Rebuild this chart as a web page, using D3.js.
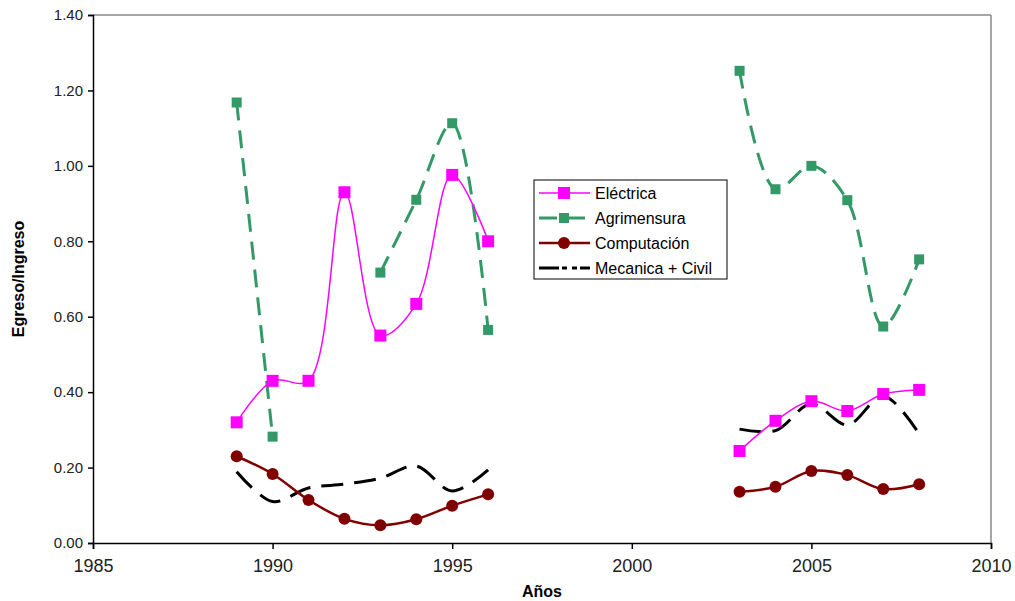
<!DOCTYPE html>
<html><head><meta charset="utf-8">
<script src="https://cdn.jsdelivr.net/npm/d3@7"></script>
<style>body{margin:0;background:#fff;} text{font-family:Arial,"Liberation Sans",sans-serif;}</style>
</head><body><svg id="c" width="1015" height="601"></svg>
<script>
const years = [1989,1990,1991,1992,1993,1994,1995,1996,1997,1998,1999,2000,2001,2002,2003,2004,2005,2006,2007,2008];
const electrica   = [0.32,0.43,0.43,0.93,0.55,0.634,0.976,0.80,null,null,null,null,null,null,0.244,0.324,0.376,0.350,0.395,0.406];
const agrimensura = [1.168,0.282,null,null,0.717,0.91,1.113,0.565,null,null,null,null,null,null,1.252,0.938,1.00,0.909,0.574,0.752];
const computacion = [0.230,0.183,0.114,0.064,0.047,0.063,0.099,0.129,null,null,null,null,null,null,0.136,0.149,0.191,0.180,0.143,0.156];
const mecanica    = [0.189,0.110,0.146,0.156,0.172,0.204,0.138,0.194,null,null,null,null,null,null,0.302,0.298,0.369,0.313,0.390,0.289];
const xTicks = [1985,1990,1995,2000,2005,2010];
const yTicks = [0,0.2,0.4,0.6,0.8,1.0,1.2,1.4];
const seriesNames = ["Eléctrica","Agrimensura","Computación","Mecanica + Civil"];

const svg = d3.select("#c");
const L=93, R=991, T=15, B=543;
const x = d3.scaleLinear().domain([1985,2010]).range([L,R]);
const y = d3.scaleLinear().domain([0,1.4]).range([B,T]);

// frame
svg.append("line").attr("x1",L).attr("x2",R).attr("y1",T).attr("y2",T).attr("stroke","#888").attr("stroke-width",1.5);
svg.append("line").attr("x1",R).attr("x2",R).attr("y1",T).attr("y2",B).attr("stroke","#888").attr("stroke-width",1.5);

const yAxis = svg.append("g").attr("transform",`translate(${L},0)`)
  .call(d3.axisLeft(y).tickValues(yTicks).tickFormat(d3.format(".2f")).tickSize(5).tickPadding(5));
const xAxis = svg.append("g").attr("transform",`translate(0,${B})`)
  .call(d3.axisBottom(x).tickValues(xTicks).tickFormat(d3.format("d")).tickSize(6).tickPadding(10));
[yAxis,xAxis].forEach(a=>{a.selectAll("path,line").attr("stroke","#000").attr("stroke-width",1.5);
  a.selectAll("text").attr("fill","#222").style("font-family","Arial,'Liberation Sans',sans-serif");});
yAxis.selectAll("text").style("font-size","15px");
xAxis.selectAll("text").style("font-size","18px");

svg.append("text").attr("transform",`translate(24,${(T+B)/2}) rotate(-90)`).attr("text-anchor","middle")
  .style("font-size","16px").style("font-weight","bold").text("Egreso/Ingreso");
svg.append("text").attr("x",(L+R)/2).attr("y",597).attr("text-anchor","middle")
  .style("font-size","16px").style("font-weight","bold").text("Años");

const series = [
  {vals:electrica, color:"#FF00FF", w:1.5, dash:null, marker:"sq", ms:12},
  {vals:agrimensura, color:"#339966", w:3, dash:"18,10", marker:"sq", ms:10},
  {vals:computacion, color:"#800000", w:2.5, dash:null, marker:"ci", ms:12},
  {vals:mecanica, color:"#000", w:3, dash:"22,11", marker:null, ms:0}
];

const line = d3.line().defined(d=>d[1]!=null).x(d=>x(d[0])).y(d=>y(d[1])).curve(d3.curveCatmullRom.alpha(0.5));

const order=[3,2,1,0];
order.forEach(i=>{
  const s=series[i];
  const data=years.map((yr,k)=>[yr,s.vals[k]]);
  svg.append("path").datum(data).attr("d",line).attr("fill","none").attr("stroke",s.color)
    .attr("stroke-width",s.w).attr("stroke-dasharray",s.dash);
  const pts=data.filter(d=>d[1]!=null);
  if(s.marker==="sq"){
    svg.selectAll(null).data(pts).enter().append("rect")
      .attr("x",d=>x(d[0])-s.ms/2).attr("y",d=>y(d[1])-s.ms/2).attr("width",s.ms).attr("height",s.ms).attr("fill",s.color);
  } else if(s.marker==="ci"){
    svg.selectAll(null).data(pts).enter().append("circle")
      .attr("cx",d=>x(d[0])).attr("cy",d=>y(d[1])).attr("r",s.ms/2).attr("fill",s.color);
  }
});

// legend
const lg=svg.append("g");
lg.append("rect").attr("x",534).attr("y",180).attr("width",193).attr("height",99).attr("fill","#fff").attr("stroke","#000").attr("stroke-width",1);
series.forEach((s,i)=>{
  const yy=193+i*25;
  lg.append("line").attr("x1",539).attr("x2",590).attr("y1",yy).attr("y2",yy).attr("stroke",s.color)
    .attr("stroke-width",s.w).attr("stroke-dasharray",i===3?"20,3,5,5,5,3":s.dash);
  if(s.marker==="sq") lg.append("rect").attr("x",564-s.ms/2).attr("y",yy-s.ms/2).attr("width",s.ms).attr("height",s.ms).attr("fill",s.color);
  if(s.marker==="ci") lg.append("circle").attr("cx",564).attr("cy",yy).attr("r",s.ms/2).attr("fill",s.color);
  lg.append("text").attr("x",595).attr("y",yy).attr("dy","0.35em").style("font-size","16px").attr("fill","#000").text(seriesNames[i]);
});
</script></body></html>
